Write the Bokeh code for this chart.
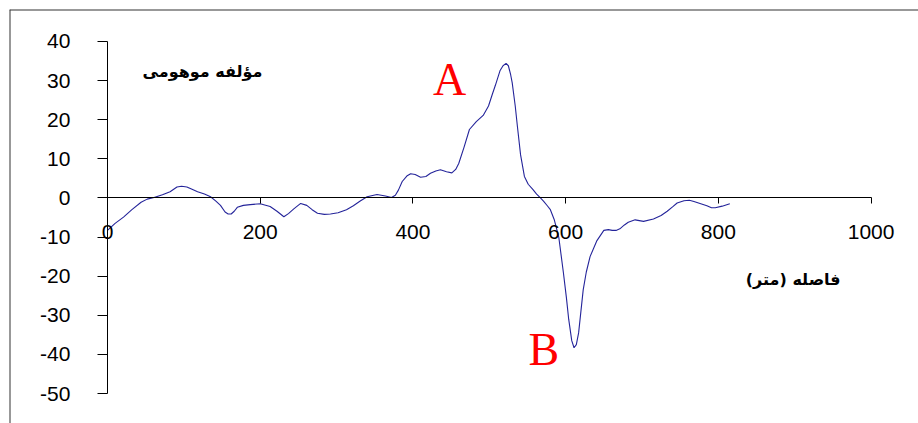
from bokeh.plotting import figure
from bokeh.models import LinearAxis, FixedTicker, Range1d, Label, Span, PrintfTickFormatter
from bokeh.embed import file_html
from bokeh.resources import INLINE

# distance (m) and imaginary component
distance = [0, 10, 21, 32, 44, 52, 61, 72, 82, 91, 97, 104, 110, 118, 127, 135, 142, 148, 154, 158,
            162, 166, 170, 178, 187, 200, 213, 222, 231, 237, 244, 253, 261, 268, 275, 284, 292, 302,
            313, 322, 331, 340, 353, 364, 372, 377, 381, 386, 392, 397, 403, 410, 417, 423, 430, 436,
            444, 451, 456, 460, 467, 474, 483, 492, 499, 504, 508, 514, 518, 522, 525, 528, 530, 534,
            537, 541, 546, 551, 557, 562, 567, 571, 576, 580, 585, 591, 597, 601, 604, 608, 611, 614,
            617, 620, 623, 627, 632, 641, 650, 656, 661, 666, 671, 677, 682, 691, 702, 715, 725, 733,
            740, 746, 755, 762, 768, 776, 785, 791, 796, 805, 815]
imag = [-8.3, -6.5, -4.9, -3.0, -1.1, -0.3, 0.1, 0.8, 1.6, 2.8, 3.0, 2.8, 2.3, 1.6, 1.0, 0.3, -0.8,
        -1.9, -3.6, -4.1, -4.1, -3.4, -2.4, -1.9, -1.7, -1.5, -2.2, -3.4, -4.8, -4.0, -2.8, -1.4,
        -1.9, -3.0, -3.9, -4.2, -4.1, -3.8, -3.0, -2.0, -0.8, 0.3, 0.9, 0.5, 0.1, 0.7, 2.0, 4.2,
        5.6, 6.2, 6.0, 5.3, 5.5, 6.3, 6.9, 7.2, 6.7, 6.4, 7.3, 8.8, 13.0, 17.5, 19.5, 21.1, 23.5,
        26.5, 28.8, 32.5, 33.8, 34.4, 33.8, 31.5, 29.5, 23.5, 18.0, 11.0, 5.5, 3.5, 2.2, 1.0, 0.0,
        -0.8, -2.0, -3.0, -5.5, -10.0, -19.0, -25.5, -31.0, -36.5, -38.3, -37.5, -34.5, -29.0,
        -23.5, -19.0, -15.0, -10.9, -8.3, -8.1, -8.3, -8.3, -7.9, -6.9, -6.2, -5.6, -6.0, -5.4,
        -4.5, -3.4, -2.3, -1.3, -0.7, -0.6, -0.9, -1.4, -2.0, -2.5, -2.5, -2.1, -1.5]

x_ticks = [0, 200, 400, 600, 800, 1000]
y_ticks = [-50, -40, -30, -20, -10, 0, 10, 20, 30, 40]

y_title = "مؤلفه موهومی"
x_title = "فاصله (متر)"

XS, XE = -128.3, 1062.1
YS, YE = -57.67, 48.18

p = figure(width=918, height=423, output_backend="svg", toolbar_location=None,
           x_range=Range1d(XS, XE), y_range=Range1d(YS, YE),
           x_axis_location=None, y_axis_location=None,
           min_border_left=9, min_border_top=9, min_border_right=0, min_border_bottom=0)
p.outline_line_color = None
p.grid.visible = False
p.background_fill_color = "white"

xa = LinearAxis(fixed_location=0, ticker=FixedTicker(ticks=x_ticks), bounds=(0, 1000),
                formatter=PrintfTickFormatter(format="%d"))
xa.major_tick_out = 6
xa.major_tick_in = 0
xa.minor_tick_line_color = None
xa.major_label_standoff = 21
xa.major_label_text_font = "Liberation Sans"
xa.major_label_text_font_size = "21px"
xa.major_label_text_color = "black"
xa.axis_line_color = "black"
xa.major_tick_line_color = "black"
p.add_layout(xa, "below")

ya = LinearAxis(fixed_location=0, ticker=FixedTicker(ticks=y_ticks), bounds=(-50, 40),
                formatter=PrintfTickFormatter(format="%d"))
ya.major_tick_out = 10
ya.major_tick_in = 0
ya.minor_tick_line_color = None
ya.major_label_standoff = 27
ya.major_label_text_font = "Liberation Sans"
ya.major_label_text_font_size = "21px"
ya.major_label_text_color = "black"
ya.axis_line_color = "black"
ya.major_tick_line_color = "black"
p.add_layout(ya, "left")

p.line(distance, imag, line_color="#24249a", line_width=1.1)

p.add_layout(Span(location=YE, dimension="width", line_color="#333333", line_width=2))
p.add_layout(Span(location=XS, dimension="height", line_color="#333333", line_width=2))

p.add_layout(Label(x=203, y=32.3, text=y_title, text_align="right", text_baseline="middle",
                   text_font="DejaVu Sans", text_font_style="bold", text_font_size="16px",
                   text_color="black"))
p.add_layout(Label(x=898, y=-20.9, text=x_title, text_align="center", text_baseline="middle",
                   text_font="DejaVu Sans", text_font_style="bold", text_font_size="16px",
                   text_color="black"))
p.add_layout(Label(x=448, y=30.3, text="A", text_align="center", text_baseline="alphabetic",
                   text_font="Liberation Serif", text_font_size="46px", text_color="#ff0000"))
p.add_layout(Label(x=571.6, y=-38.7, text="B", text_align="center", text_baseline="alphabetic",
                   text_font="Liberation Serif", text_font_size="46px", text_color="#ff0000"))

open("out.html", "w").write(file_html(p, INLINE))
